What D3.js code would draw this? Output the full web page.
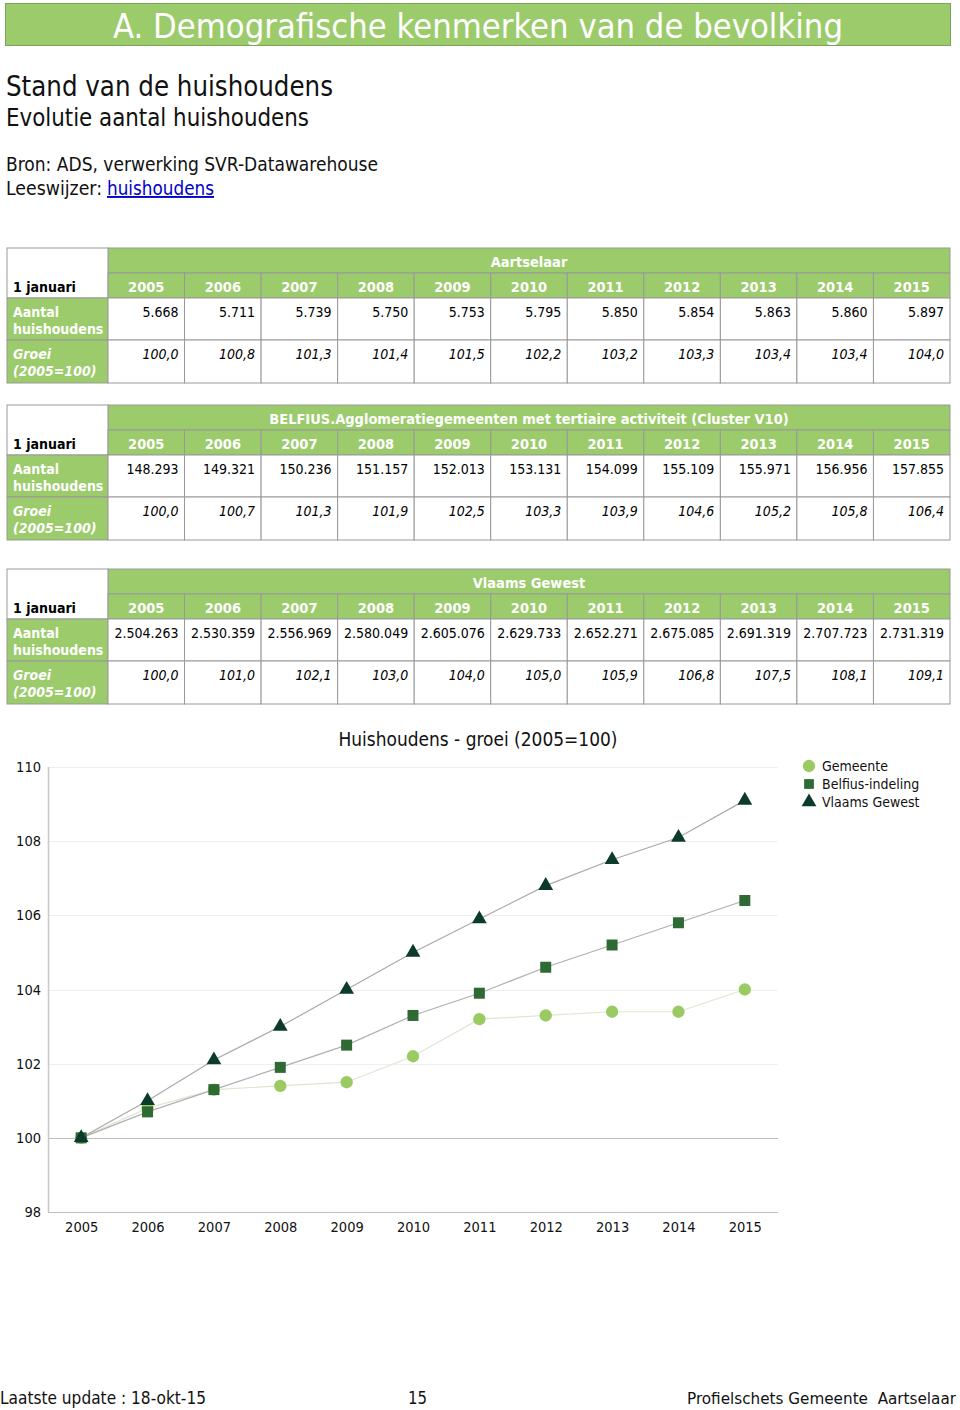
<!DOCTYPE html>
<html>
<head>
<meta charset="utf-8">
<script src="https://cdn.jsdelivr.net/npm/d3@7"></script>
<style>
  html, body { margin: 0; padding: 0; background: #fff; }
  svg { display: block; }
</style>
</head>
<body>
<svg id="page" width="960" height="1410"></svg>
<script>
// ---------- DATA ----------
const years = [2005, 2006, 2007, 2008, 2009, 2010, 2011, 2012, 2013, 2014, 2015];
const gemeenteAantal = [5668, 5711, 5739, 5750, 5753, 5795, 5850, 5854, 5863, 5860, 5897];
const gemeenteGroei  = [100.0, 100.8, 101.3, 101.4, 101.5, 102.2, 103.2, 103.3, 103.4, 103.4, 104.0];
const belfiusAantal  = [148293, 149321, 150236, 151157, 152013, 153131, 154099, 155109, 155971, 156956, 157855];
const belfiusGroei   = [100.0, 100.7, 101.3, 101.9, 102.5, 103.3, 103.9, 104.6, 105.2, 105.8, 106.4];
const vlaamsAantal   = [2504263, 2530359, 2556969, 2580049, 2605076, 2629733, 2652271, 2675085, 2691319, 2707723, 2731319];
const vlaamsGroei    = [100.0, 101.0, 102.1, 103.0, 104.0, 105.0, 105.9, 106.8, 107.5, 108.1, 109.1];
const tableTitles = ["Aartselaar", "BELFIUS.Agglomeratiegemeenten met tertiaire activiteit (Cluster V10)", "Vlaams Gewest"];
const seriesNames = ["Gemeente", "Belfius-indeling", "Vlaams Gewest"];
const yTicks = [98, 100, 102, 104, 106, 108, 110];

// ---------- SETUP ----------
const nl = d3.formatLocale({decimal: ",", thousands: ".", grouping: [3], currency: ["€", ""]});
const fmtInt = nl.format(",d");
const fmtDec = nl.format(",.1f");
const GREEN = "#9bcb6b";
const BORDER = "#999";
const FONT = "'DejaVu Sans Condensed', 'DejaVu Sans', sans-serif";

const svg = d3.select("#page");

// ---------- HEADER ----------
svg.append("rect").attr("x", 5.5).attr("y", 3.5).attr("width", 945).attr("height", 42)
  .attr("fill", GREEN).attr("stroke", "#7ba45a");
svg.append("text").attr("x", 113).attr("y", 38).attr("font-family", FONT).attr("font-size", 34)
  .attr("fill", "#fff").attr("textLength", 730).attr("lengthAdjust", "spacingAndGlyphs")
  .text("A. Demografische kenmerken van de bevolking");

const heads = [
  {t: "Stand van de huishoudens", y: 96, s: 28, w: 327},
  {t: "Evolutie aantal huishoudens", y: 126, s: 24, w: 303},
  {t: "Bron: ADS, verwerking SVR-Datawarehouse", y: 171, s: 19, w: 372}
];
heads.forEach(h => svg.append("text").attr("x", 6).attr("y", h.y).attr("font-family", FONT)
  .attr("font-size", h.s).attr("fill", "#111").attr("textLength", h.w)
  .attr("lengthAdjust", "spacingAndGlyphs").text(h.t));
svg.append("text").attr("x", 6).attr("y", 195).attr("font-family", FONT).attr("font-size", 19)
  .attr("fill", "#111").attr("textLength", 96).attr("lengthAdjust", "spacingAndGlyphs").text("Leeswijzer:");
svg.append("text").attr("x", 107).attr("y", 195).attr("font-family", FONT).attr("font-size", 19)
  .attr("fill", "#0000cc").attr("text-decoration", "underline")
  .attr("textLength", 107).attr("lengthAdjust", "spacingAndGlyphs").text("huishoudens");

// ---------- TABLES ----------
const xCol = d3.scaleBand().domain(years).range([108, 950]);
const tables = [
  {top: 248, title: tableTitles[0], aantal: gemeenteAantal, groei: gemeenteGroei},
  {top: 405, title: tableTitles[1], aantal: belfiusAantal, groei: belfiusGroei},
  {top: 569, title: tableTitles[2], aantal: vlaamsAantal, groei: vlaamsGroei}
];

tables.forEach(tb => {
  const g = svg.append("g").attr("font-family", FONT).attr("font-size", 14);
  const T = tb.top, r1 = T + 25, r2 = T + 50, r3 = T + 92, r4 = T + 135;
  g.append("rect").attr("x", 108).attr("y", T).attr("width", 842).attr("height", 25)
    .attr("fill", GREEN).attr("stroke", BORDER);
  g.append("text").attr("x", 529).attr("y", T + 19).attr("text-anchor", "middle")
    .attr("font-weight", "bold").attr("fill", "#fff").attr("font-size", 14.5).text(tb.title);
  g.append("rect").attr("x", 7).attr("y", T).attr("width", 101).attr("height", 50)
    .attr("fill", "#fff").attr("stroke", BORDER);
  g.append("text").attr("x", 13).attr("y", r1 + 19).attr("font-weight", "bold").attr("fill", "#000").text("1 januari");
  g.selectAll(".yr").data(years).join("rect").attr("x", d => xCol(d)).attr("y", r1)
    .attr("width", xCol.bandwidth()).attr("height", 25).attr("fill", GREEN).attr("stroke", BORDER);
  g.selectAll(".yrt").data(years).join("text").attr("x", d => xCol(d) + xCol.bandwidth() / 2)
    .attr("y", r1 + 19).attr("text-anchor", "middle").attr("font-weight", "bold").attr("font-size", 14.5)
    .attr("fill", "#fff").text(d => d);
  g.append("rect").attr("x", 7).attr("y", r2).attr("width", 101).attr("height", r3 - r2)
    .attr("fill", GREEN).attr("stroke", BORDER);
  g.append("rect").attr("x", 7).attr("y", r3).attr("width", 101).attr("height", r4 - r3)
    .attr("fill", GREEN).attr("stroke", BORDER);
  g.append("text").attr("x", 13).attr("y", r2 + 19).attr("font-weight", "bold").attr("fill", "#fff").text("Aantal");
  g.append("text").attr("x", 13).attr("y", r2 + 36).attr("font-weight", "bold").attr("fill", "#fff").text("huishoudens");
  g.append("text").attr("x", 13).attr("y", r3 + 19).attr("font-weight", "bold").attr("font-style", "italic").attr("fill", "#fff").text("Groei");
  g.append("text").attr("x", 13).attr("y", r3 + 36).attr("font-weight", "bold").attr("font-style", "italic").attr("fill", "#fff").text("(2005=100)");
  [[r2, r3, tb.aantal, fmtInt, "normal"], [r3, r4, tb.groei, fmtDec, "italic"]].forEach(([a, b, vals, f, st]) => {
    g.selectAll(null).data(years).join("rect").attr("x", d => xCol(d)).attr("y", a)
      .attr("width", xCol.bandwidth()).attr("height", b - a).attr("fill", "#fff").attr("stroke", BORDER);
    g.selectAll(null).data(vals).join("text").attr("x", (d, i) => xCol(years[i]) + xCol.bandwidth() - 6)
      .attr("y", a + 19).attr("text-anchor", "end").attr("font-style", st).attr("fill", "#000").text(d => f(d));
  });
});

// ---------- CHART ----------
const cx = d3.scalePoint().domain(years).range([48, 778]).padding(0.5);
const cy = d3.scaleLinear().domain([98, 110]).range([1212, 767]);
const cg = svg.append("g").attr("font-family", FONT);

cg.append("text").attr("x", 478).attr("y", 746).attr("text-anchor", "middle").attr("font-size", 19.5)
  .attr("fill", "#111").attr("textLength", 279).attr("lengthAdjust", "spacingAndGlyphs")
  .text("Huishoudens - groei (2005=100)");

cg.selectAll(".grid").data(yTicks).join("line")
  .attr("x1", 48).attr("x2", 778).attr("y1", d => Math.round(cy(d)) + 0.5).attr("y2", d => Math.round(cy(d)) + 0.5)
  .attr("stroke", d => (d === 100 || d === 98) ? "#bdbdbd" : "#efefef").attr("stroke-width", 1);
cg.append("line").attr("x1", 48.5).attr("x2", 48.5).attr("y1", cy(110)).attr("y2", cy(98))
  .attr("stroke", "#c8c8c8").attr("stroke-width", 1.5);

const yAxis = d3.axisLeft(cy).tickValues(yTicks).tickSize(0).tickPadding(7);
cg.append("g").attr("transform", "translate(48,0)").call(yAxis)
  .call(a => a.select(".domain").remove())
  .call(a => a.selectAll("text").attr("font-family", FONT).attr("font-size", 14.5).attr("fill", "#111"));
const xAxis = d3.axisBottom(cx).tickSize(0).tickPadding(10);
cg.append("g").attr("transform", "translate(0,1212)").call(xAxis)
  .call(a => a.select(".domain").remove())
  .call(a => a.selectAll("text").attr("font-family", FONT).attr("font-size", 14.5).attr("fill", "#111"));

const series = [
  {name: seriesNames[2], vals: vlaamsGroei, line: "#a9a9a9", col: "#0c3b2e", sym: d3.symbolTriangle, size: 95},
  {name: seriesNames[1], vals: belfiusGroei, line: "#b0b0b0", col: "#2f6a34", sym: d3.symbolSquare, size: 121},
  {name: seriesNames[0], vals: gemeenteGroei, line: "#dfe6d2", col: "#9acb63", sym: d3.symbolCircle, size: 120}
];
const lineGen = d3.line().x((d, i) => cx(years[i])).y(d => cy(d));
series.slice().reverse().forEach(s => {
  cg.append("path").datum(s.vals).attr("d", lineGen).attr("fill", "none")
    .attr("stroke", s.line).attr("stroke-width", 1.2);
});
series.slice().reverse().forEach(s => {
  cg.selectAll(null).data(s.vals).join("path")
    .attr("transform", (d, i) => `translate(${cx(years[i])},${cy(d)})`)
    .attr("d", d3.symbol(s.sym, s.size)).attr("fill", s.col);
});

// legend
const legend = [series[2], series[1], series[0]];
legend.forEach((s, i) => {
  const ly = 766 + i * 18;
  cg.append("path").attr("transform", `translate(809,${ly})`)
    .attr("d", d3.symbol(s.sym, s.sym === d3.symbolCircle ? 120 : 95)).attr("fill", s.col);
  cg.append("text").attr("x", 822).attr("y", ly + 5).attr("font-size", 14).attr("fill", "#111").text(s.name);
});

// ---------- FOOTER ----------
const foot = [
  {t: "Laatste update : 18-okt-15", x: 0, w: 206, a: "start", s: 18},
  {t: "15", x: 408, w: 19, a: "start", s: 18},
  {t: "Profielschets Gemeente\u00a0 Aartselaar", x: 956, w: 269, a: "end", s: 16}
];
foot.forEach(f => svg.append("text").attr("x", f.x).attr("y", 1404).attr("font-family", FONT)
  .attr("font-size", f.s).attr("fill", "#111").attr("text-anchor", f.a).attr("textLength", f.w)
  .attr("lengthAdjust", "spacingAndGlyphs").text(f.t));
</script>
</body>
</html>
